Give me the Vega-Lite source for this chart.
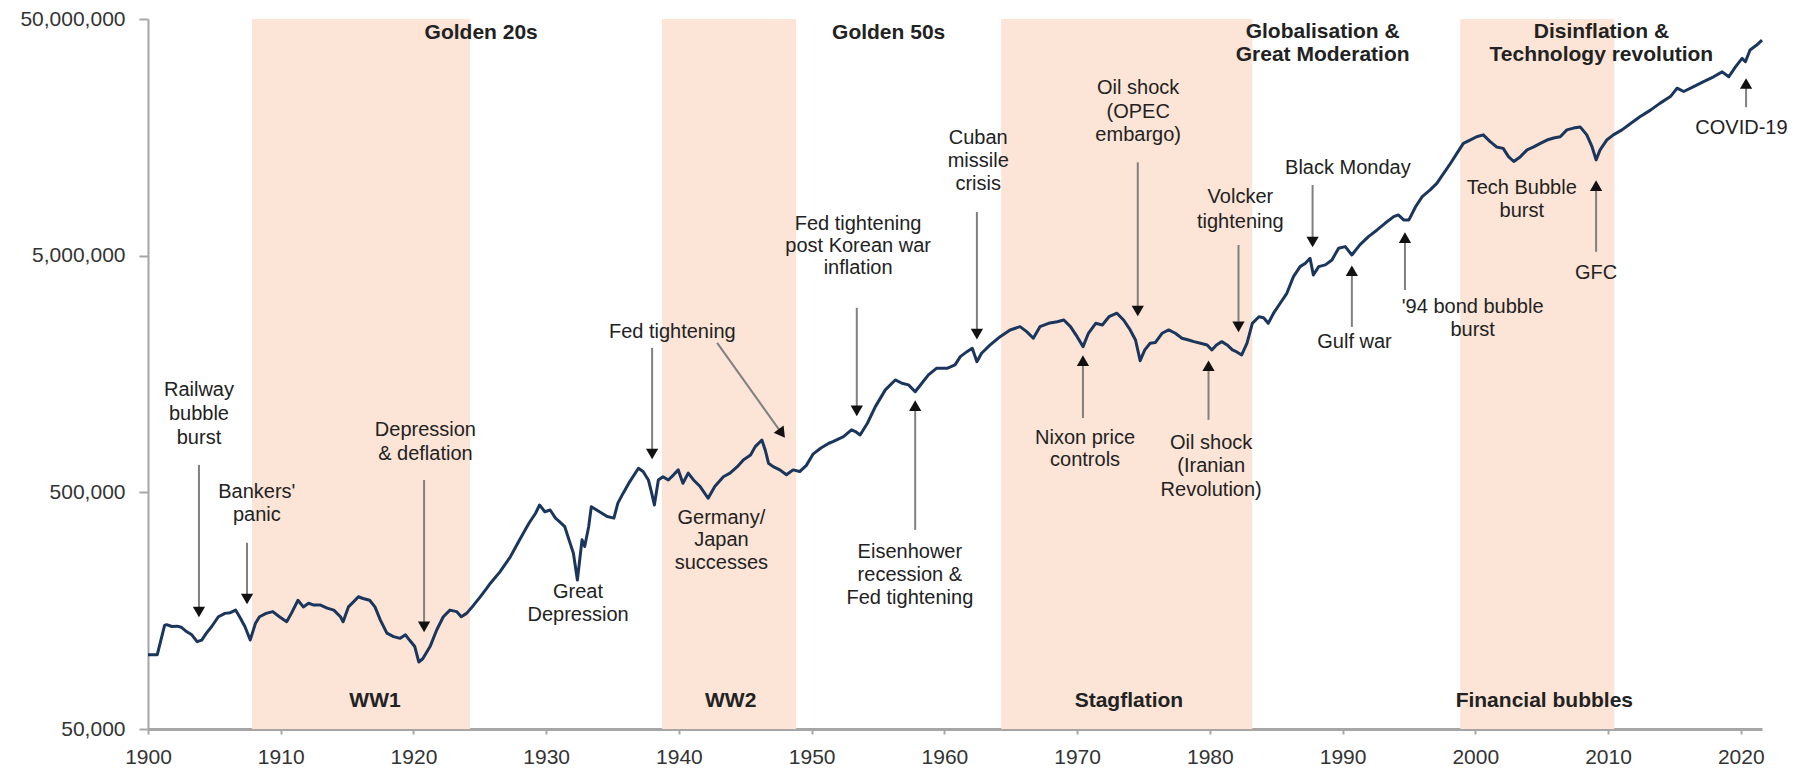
{
  "$schema": "https://vega.github.io/schema/vega-lite/v6.json",
  "width": 1614,
  "height": 710,
  "autosize": {"type": "none"},
  "padding": {"left": 148, "top": 19, "right": 34, "bottom": 40},
  "background": "white",
  "config": {
    "view": {"stroke": null},
    "axis": {"grid": false, "title": null, "labelFont": "Liberation Sans", "labelFontSize": 21, "labelColor": "#333333", "domainColor": "#a6a6a6", "tickColor": "#a6a6a6"}
  },
  "datasets": {
    "series": [
      {"year": 1900.0, "value": 103000}, {"year": 1900.7, "value": 103000}, {"year": 1901.25, "value": 137000}, {"year": 1901.4, "value": 138000},
      {"year": 1901.8, "value": 135500}, {"year": 1902.2, "value": 136000}, {"year": 1902.5, "value": 134600}, {"year": 1902.9, "value": 129000},
      {"year": 1903.3, "value": 125000}, {"year": 1903.7, "value": 117000}, {"year": 1904.05, "value": 118800}, {"year": 1904.4, "value": 127000},
      {"year": 1904.8, "value": 135500}, {"year": 1905.3, "value": 149000}, {"year": 1905.8, "value": 154000}, {"year": 1906.2, "value": 155000},
      {"year": 1906.6, "value": 159000}, {"year": 1906.9, "value": 149000}, {"year": 1907.3, "value": 135500}, {"year": 1907.7, "value": 118800},
      {"year": 1908.1, "value": 140000}, {"year": 1908.4, "value": 149000}, {"year": 1908.9, "value": 154000}, {"year": 1909.4, "value": 156700},
      {"year": 1909.9, "value": 149000}, {"year": 1910.45, "value": 142000}, {"year": 1910.8, "value": 154000}, {"year": 1911.3, "value": 175000},
      {"year": 1911.7, "value": 164000}, {"year": 1912.1, "value": 170000}, {"year": 1912.5, "value": 167000}, {"year": 1913.0, "value": 167000},
      {"year": 1913.5, "value": 162000}, {"year": 1914.0, "value": 159000}, {"year": 1914.5, "value": 149000}, {"year": 1914.7, "value": 142000},
      {"year": 1915.1, "value": 164000}, {"year": 1915.5, "value": 172600}, {"year": 1915.85, "value": 181000}, {"year": 1916.2, "value": 178000},
      {"year": 1916.7, "value": 175000}, {"year": 1917.1, "value": 164000}, {"year": 1917.5, "value": 144500}, {"year": 1918.0, "value": 127000},
      {"year": 1918.5, "value": 122800}, {"year": 1919.0, "value": 120800}, {"year": 1919.4, "value": 125000}, {"year": 1919.7, "value": 118800},
      {"year": 1920.1, "value": 111500}, {"year": 1920.4, "value": 96000}, {"year": 1920.7, "value": 99000}, {"year": 1921.25, "value": 111500},
      {"year": 1921.75, "value": 131000}, {"year": 1922.25, "value": 149000}, {"year": 1922.75, "value": 159000}, {"year": 1923.25, "value": 156700},
      {"year": 1923.6, "value": 149000}, {"year": 1924.0, "value": 154000}, {"year": 1924.5, "value": 166000}, {"year": 1925.0, "value": 180000},
      {"year": 1925.5, "value": 196000}, {"year": 1925.8, "value": 206500}, {"year": 1926.0, "value": 213000}, {"year": 1926.5, "value": 230000},
      {"year": 1927.3, "value": 267000}, {"year": 1928.0, "value": 315000}, {"year": 1928.7, "value": 370000}, {"year": 1929.2, "value": 408000},
      {"year": 1929.5, "value": 442000}, {"year": 1929.9, "value": 414000}, {"year": 1930.3, "value": 421000}, {"year": 1930.7, "value": 389000},
      {"year": 1931.0, "value": 376000}, {"year": 1931.4, "value": 358000}, {"year": 1931.8, "value": 305000}, {"year": 1932.05, "value": 276500},
      {"year": 1932.35, "value": 213000}, {"year": 1932.7, "value": 315000}, {"year": 1932.9, "value": 295000}, {"year": 1933.2, "value": 358000},
      {"year": 1933.4, "value": 435000}, {"year": 1933.8, "value": 421000}, {"year": 1934.2, "value": 408000}, {"year": 1934.6, "value": 395000},
      {"year": 1935.1, "value": 389000}, {"year": 1935.4, "value": 450000}, {"year": 1935.8, "value": 496000}, {"year": 1936.3, "value": 555000},
      {"year": 1936.95, "value": 632000}, {"year": 1937.3, "value": 612000}, {"year": 1937.7, "value": 564000}, {"year": 1937.95, "value": 496000},
      {"year": 1938.15, "value": 442000}, {"year": 1938.45, "value": 564000}, {"year": 1938.8, "value": 582000}, {"year": 1939.2, "value": 564000},
      {"year": 1939.6, "value": 593000}, {"year": 1939.95, "value": 622000}, {"year": 1940.3, "value": 546000}, {"year": 1940.7, "value": 603000},
      {"year": 1941.1, "value": 564000}, {"year": 1941.6, "value": 529000}, {"year": 1942.2, "value": 472000}, {"year": 1942.7, "value": 529000},
      {"year": 1943.35, "value": 582000}, {"year": 1943.85, "value": 603000}, {"year": 1944.4, "value": 642000}, {"year": 1944.85, "value": 685000},
      {"year": 1945.4, "value": 719000}, {"year": 1945.75, "value": 780000}, {"year": 1946.25, "value": 832000}, {"year": 1946.5, "value": 755000},
      {"year": 1946.75, "value": 664000}, {"year": 1947.1, "value": 642000}, {"year": 1947.6, "value": 622000}, {"year": 1948.1, "value": 593000},
      {"year": 1948.6, "value": 622000}, {"year": 1949.1, "value": 612000}, {"year": 1949.6, "value": 650000}, {"year": 1950.1, "value": 725000},
      {"year": 1950.7, "value": 770000}, {"year": 1951.3, "value": 806000}, {"year": 1951.6, "value": 819000}, {"year": 1952.4, "value": 860000},
      {"year": 1953.0, "value": 918000}, {"year": 1953.3, "value": 903000}, {"year": 1953.65, "value": 874000}, {"year": 1954.2, "value": 979000},
      {"year": 1954.8, "value": 1151000}, {"year": 1955.55, "value": 1355000}, {"year": 1956.3, "value": 1492000}, {"year": 1956.8, "value": 1445000},
      {"year": 1957.3, "value": 1422000}, {"year": 1957.8, "value": 1331000}, {"year": 1958.3, "value": 1445000}, {"year": 1958.8, "value": 1567000},
      {"year": 1959.4, "value": 1671000}, {"year": 1960.2, "value": 1671000}, {"year": 1960.8, "value": 1727000}, {"year": 1961.2, "value": 1872000},
      {"year": 1961.7, "value": 1965000}, {"year": 1962.1, "value": 2032000}, {"year": 1962.45, "value": 1783000}, {"year": 1962.8, "value": 1935000},
      {"year": 1963.45, "value": 2098000}, {"year": 1964.2, "value": 2274000}, {"year": 1964.95, "value": 2427000}, {"year": 1965.7, "value": 2506000},
      {"year": 1966.2, "value": 2388000}, {"year": 1966.7, "value": 2239000}, {"year": 1967.2, "value": 2506000}, {"year": 1967.85, "value": 2589000},
      {"year": 1968.5, "value": 2630000}, {"year": 1969.0, "value": 2673000}, {"year": 1969.5, "value": 2506000}, {"year": 1970.0, "value": 2274000},
      {"year": 1970.45, "value": 2064000}, {"year": 1970.85, "value": 2350000}, {"year": 1971.4, "value": 2589000}, {"year": 1971.9, "value": 2547000},
      {"year": 1972.4, "value": 2761000}, {"year": 1973.0, "value": 2857000}, {"year": 1973.5, "value": 2673000}, {"year": 1974.0, "value": 2427000},
      {"year": 1974.4, "value": 2202000}, {"year": 1974.75, "value": 1800000}, {"year": 1975.1, "value": 2000000}, {"year": 1975.5, "value": 2133000},
      {"year": 1975.9, "value": 2150000}, {"year": 1976.4, "value": 2350000}, {"year": 1976.9, "value": 2427000}, {"year": 1977.4, "value": 2350000},
      {"year": 1977.9, "value": 2239000}, {"year": 1978.4, "value": 2202000}, {"year": 1978.8, "value": 2166000}, {"year": 1979.3, "value": 2133000},
      {"year": 1979.8, "value": 2098000}, {"year": 1980.15, "value": 1998000}, {"year": 1980.5, "value": 2098000}, {"year": 1980.9, "value": 2166000},
      {"year": 1981.3, "value": 2098000}, {"year": 1981.7, "value": 1998000}, {"year": 1982.0, "value": 1965000}, {"year": 1982.4, "value": 1903000},
      {"year": 1982.8, "value": 2133000}, {"year": 1983.2, "value": 2589000}, {"year": 1983.7, "value": 2761000}, {"year": 1984.05, "value": 2735000},
      {"year": 1984.4, "value": 2589000}, {"year": 1984.8, "value": 2857000}, {"year": 1985.3, "value": 3147000}, {"year": 1985.8, "value": 3467000},
      {"year": 1986.3, "value": 4077000}, {"year": 1986.8, "value": 4494000}, {"year": 1987.2, "value": 4645000}, {"year": 1987.55, "value": 4876000},
      {"year": 1987.8, "value": 4143000}, {"year": 1988.2, "value": 4494000}, {"year": 1988.7, "value": 4570000}, {"year": 1989.2, "value": 4797000},
      {"year": 1989.7, "value": 5375000}, {"year": 1990.2, "value": 5460000}, {"year": 1990.7, "value": 5035000}, {"year": 1991.3, "value": 5550000},
      {"year": 1991.95, "value": 6015000}, {"year": 1992.6, "value": 6420000}, {"year": 1993.2, "value": 6850000}, {"year": 1993.85, "value": 7310000},
      {"year": 1994.2, "value": 7430000}, {"year": 1994.6, "value": 7080000}, {"year": 1995.0, "value": 7080000}, {"year": 1995.5, "value": 8050000},
      {"year": 1996.0, "value": 8880000}, {"year": 1996.6, "value": 9480000}, {"year": 1997.1, "value": 10100000}, {"year": 1997.6, "value": 11100000},
      {"year": 1998.1, "value": 12200000}, {"year": 1998.6, "value": 13500000}, {"year": 1999.1, "value": 14900000}, {"year": 1999.6, "value": 15400000},
      {"year": 2000.1, "value": 15900000}, {"year": 2000.6, "value": 16200000}, {"year": 2001.1, "value": 15200000}, {"year": 2001.6, "value": 14400000},
      {"year": 2002.1, "value": 14200000}, {"year": 2002.5, "value": 13100000}, {"year": 2002.9, "value": 12500000}, {"year": 2003.4, "value": 13100000},
      {"year": 2003.9, "value": 14000000}, {"year": 2004.4, "value": 14400000}, {"year": 2004.9, "value": 14900000}, {"year": 2005.4, "value": 15400000},
      {"year": 2005.9, "value": 15700000}, {"year": 2006.4, "value": 15900000}, {"year": 2006.9, "value": 17000000}, {"year": 2007.4, "value": 17300000},
      {"year": 2007.9, "value": 17500000}, {"year": 2008.4, "value": 16200000}, {"year": 2008.8, "value": 14400000}, {"year": 2009.1, "value": 12700000},
      {"year": 2009.4, "value": 14000000}, {"year": 2009.9, "value": 15400000}, {"year": 2010.4, "value": 16200000}, {"year": 2011.05, "value": 17000000},
      {"year": 2011.7, "value": 18100000}, {"year": 2012.4, "value": 19300000}, {"year": 2013.2, "value": 20600000}, {"year": 2013.9, "value": 22000000},
      {"year": 2014.7, "value": 23500000}, {"year": 2015.2, "value": 25500000}, {"year": 2015.7, "value": 24700000}, {"year": 2016.45, "value": 25900000},
      {"year": 2017.2, "value": 27200000}, {"year": 2017.95, "value": 28500000}, {"year": 2018.6, "value": 29900000}, {"year": 2019.1, "value": 28500000},
      {"year": 2019.6, "value": 31400000}, {"year": 2020.1, "value": 34100000}, {"year": 2020.35, "value": 33000000}, {"year": 2020.7, "value": 37000000},
      {"year": 2021.2, "value": 38800000}, {"year": 2021.6, "value": 40700000}
    ],
    "bands": [
      {"year": 1907.84, "year2": 1924.27},
      {"year": 1938.73, "year2": 1948.83},
      {"year": 1964.28, "year2": 1983.2},
      {"year": 1998.87, "year2": 2010.47}
    ],
    "periods": [
      {"year": 1925.1, "value": 43600000, "label": "Golden 20s"},
      {"year": 1955.8, "value": 43600000, "label": "Golden 50s"},
      {"year": 1988.5, "value": 44000000, "label": "Globalisation &"},
      {"year": 1988.5, "value": 35200000, "label": "Great Moderation"},
      {"year": 2009.5, "value": 44000000, "label": "Disinflation &"},
      {"year": 2009.5, "value": 35200000, "label": "Technology revolution"},
      {"year": 1917.1, "value": 65800, "label": "WW1"},
      {"year": 1943.9, "value": 65800, "label": "WW2"},
      {"year": 1973.9, "value": 65800, "label": "Stagflation"},
      {"year": 2005.2, "value": 65800, "label": "Financial bubbles"}
    ],
    "notes": [
      {"year": 1903.84, "value": 1355000, "label": "Railway"},
      {"year": 1903.84, "value": 1072000, "label": "bubble"},
      {"year": 1903.84, "value": 849000, "label": "burst"},
      {"year": 1908.2, "value": 502000, "label": "Bankers'"},
      {"year": 1908.2, "value": 402000, "label": "panic"},
      {"year": 1920.9, "value": 918000, "label": "Depression"},
      {"year": 1920.9, "value": 726000, "label": "& deflation"},
      {"year": 1932.4, "value": 190000, "label": "Great"},
      {"year": 1932.4, "value": 152000, "label": "Depression"},
      {"year": 1939.5, "value": 2380000, "label": "Fed tightening"},
      {"year": 1943.2, "value": 390000, "label": "Germany/"},
      {"year": 1943.2, "value": 315000, "label": "Japan"},
      {"year": 1943.2, "value": 252000, "label": "successes"},
      {"year": 1953.5, "value": 6810000, "label": "Fed tightening"},
      {"year": 1953.5, "value": 5500000, "label": "post Korean war"},
      {"year": 1953.5, "value": 4440000, "label": "inflation"},
      {"year": 1957.4, "value": 280000, "label": "Eisenhower"},
      {"year": 1957.4, "value": 224000, "label": "recession &"},
      {"year": 1957.4, "value": 179000, "label": "Fed tightening"},
      {"year": 1962.55, "value": 15700000, "label": "Cuban"},
      {"year": 1962.55, "value": 12560000, "label": "missile"},
      {"year": 1962.55, "value": 10050000, "label": "crisis"},
      {"year": 1970.6, "value": 849000, "label": "Nixon price"},
      {"year": 1970.6, "value": 685000, "label": "controls"},
      {"year": 1974.6, "value": 25600000, "label": "Oil shock"},
      {"year": 1974.6, "value": 20200000, "label": "(OPEC"},
      {"year": 1974.6, "value": 16200000, "label": "embargo)"},
      {"year": 1980.1, "value": 809000, "label": "Oil shock"},
      {"year": 1980.1, "value": 647000, "label": "(Iranian"},
      {"year": 1980.1, "value": 512000, "label": "Revolution)"},
      {"year": 1982.3, "value": 8850000, "label": "Volcker"},
      {"year": 1982.3, "value": 6940000, "label": "tightening"},
      {"year": 1990.4, "value": 11740000, "label": "Black Monday"},
      {"year": 1990.9, "value": 2160000, "label": "Gulf war"},
      {"year": 1999.8, "value": 3030000, "label": "'94 bond bubble"},
      {"year": 1999.8, "value": 2430000, "label": "burst"},
      {"year": 2003.5, "value": 9660000, "label": "Tech Bubble"},
      {"year": 2003.5, "value": 7720000, "label": "burst"},
      {"year": 2009.1, "value": 4230000, "label": "GFC"},
      {"year": 2020.05, "value": 17300000, "label": "COVID-19"}
    ],
    "downArrows": [
      {"year": 1903.84, "value": 653000, "value2": 156000},
      {"year": 1907.46, "value": 306000, "value2": 177000},
      {"year": 1920.8, "value": 564000, "value2": 135000},
      {"year": 1937.98, "value": 2040000, "value2": 726000},
      {"year": 1953.4, "value": 3010000, "value2": 1104000},
      {"year": 1962.45, "value": 7650000, "value2": 2330000},
      {"year": 1974.57, "value": 12400000, "value2": 2920000},
      {"year": 1982.16, "value": 5550000, "value2": 2500000},
      {"year": 1987.74, "value": 9950000, "value2": 5710000}
    ],
    "upArrows": [
      {"year": 1957.8, "value": 1162000, "value2": 347000},
      {"year": 1970.44, "value": 1800000, "value2": 1031000},
      {"year": 1979.9, "value": 1714000, "value2": 1012000},
      {"year": 1990.7, "value": 4320000, "value2": 2500000},
      {"year": 1994.7, "value": 5960000, "value2": 3580000},
      {"year": 2009.1, "value": 9880000, "value2": 5190000},
      {"year": 2020.4, "value": 26700000, "value2": 21200000}
    ],
    "diagArrow": [
      {"year": 1942.88, "value": 2140000, "year2": 1947.75, "value2": 887000}
    ]
  },
  "encoding": {
    "x": {
      "field": "year", "type": "quantitative",
      "scale": {"domain": [1900, 2021.6], "nice": false, "zero": false},
      "axis": {"values": [1900, 1910, 1920, 1930, 1940, 1950, 1960, 1970, 1980, 1990, 2000, 2010, 2020], "format": "d", "domainWidth": 3, "tickWidth": 2, "tickSize": 5, "labelPadding": 12, "labelFlush": false}
    }
  },
  "layer": [
    {
      "data": {"name": "bands"},
      "mark": {"type": "rect", "color": "#fce4d6"},
      "encoding": {
        "x2": {"field": "year2"}
      }
    },
    {
      "data": {"name": "series"},
      "mark": {"type": "line", "color": "#1b365d", "strokeWidth": 3, "strokeJoin": "round"},
      "encoding": {
        "y": {"field": "value", "type": "quantitative", "scale": {"type": "log", "domain": [50000, 50000000], "nice": false}, "axis": {"values": [50000, 500000, 5000000, 50000000], "format": ",d", "domainWidth": 2, "tickWidth": 2, "tickSize": 9, "labelPadding": 14}}
      }
    },
    {
      "data": {"name": "downArrows"},
      "mark": {"type": "rule", "color": "#808080", "strokeWidth": 2},
      "encoding": {
        "y": {"field": "value", "type": "quantitative", "scale": {"type": "log", "domain": [50000, 50000000], "nice": false}, "axis": {"values": [50000, 500000, 5000000, 50000000], "format": ",d", "domainWidth": 2, "tickWidth": 2, "tickSize": 9, "labelPadding": 14}},
        "y2": {"field": "value2"}
      }
    },
    {
      "data": {"name": "downArrows"},
      "mark": {"type": "point", "shape": "triangle-down", "filled": true, "size": 150, "color": "#111111", "opacity": 1},
      "encoding": {
        "y": {"field": "value2", "type": "quantitative", "scale": {"type": "log", "domain": [50000, 50000000], "nice": false}, "axis": {"values": [50000, 500000, 5000000, 50000000], "format": ",d", "domainWidth": 2, "tickWidth": 2, "tickSize": 9, "labelPadding": 14}}
      }
    },
    {
      "data": {"name": "upArrows"},
      "mark": {"type": "rule", "color": "#808080", "strokeWidth": 2},
      "encoding": {
        "y": {"field": "value", "type": "quantitative", "scale": {"type": "log", "domain": [50000, 50000000], "nice": false}, "axis": {"values": [50000, 500000, 5000000, 50000000], "format": ",d", "domainWidth": 2, "tickWidth": 2, "tickSize": 9, "labelPadding": 14}},
        "y2": {"field": "value2"}
      }
    },
    {
      "data": {"name": "upArrows"},
      "mark": {"type": "point", "shape": "triangle-up", "filled": true, "size": 150, "color": "#111111", "opacity": 1},
      "encoding": {
        "y": {"field": "value", "type": "quantitative", "scale": {"type": "log", "domain": [50000, 50000000], "nice": false}, "axis": {"values": [50000, 500000, 5000000, 50000000], "format": ",d", "domainWidth": 2, "tickWidth": 2, "tickSize": 9, "labelPadding": 14}}
      }
    },
    {
      "data": {"name": "diagArrow"},
      "mark": {"type": "rule", "color": "#808080", "strokeWidth": 2},
      "encoding": {
        "y": {"field": "value", "type": "quantitative", "scale": {"type": "log", "domain": [50000, 50000000], "nice": false}, "axis": {"values": [50000, 500000, 5000000, 50000000], "format": ",d", "domainWidth": 2, "tickWidth": 2, "tickSize": 9, "labelPadding": 14}},
        "x2": {"field": "year2"},
        "y2": {"field": "value2"}
      }
    },
    {
      "data": {"name": "diagArrow"},
      "mark": {"type": "point", "shape": "triangle-up", "angle": 144, "filled": true, "size": 150, "color": "#111111", "opacity": 1},
      "encoding": {
        "x": {"field": "year2", "type": "quantitative", "scale": {"domain": [1900, 2021.6], "nice": false, "zero": false}, "axis": {"values": [1900, 1910, 1920, 1930, 1940, 1950, 1960, 1970, 1980, 1990, 2000, 2010, 2020], "format": "d", "domainWidth": 3, "tickWidth": 2, "tickSize": 5, "labelPadding": 12, "labelFlush": false}},
        "y": {"field": "value2", "type": "quantitative", "scale": {"type": "log", "domain": [50000, 50000000], "nice": false}, "axis": {"values": [50000, 500000, 5000000, 50000000], "format": ",d", "domainWidth": 2, "tickWidth": 2, "tickSize": 9, "labelPadding": 14}}
      }
    },
    {
      "data": {"name": "notes"},
      "mark": {"type": "text", "font": "Liberation Sans", "fontSize": 20, "color": "#222222", "align": "center", "baseline": "middle"},
      "encoding": {
        "y": {"field": "value", "type": "quantitative", "scale": {"type": "log", "domain": [50000, 50000000], "nice": false}, "axis": {"values": [50000, 500000, 5000000, 50000000], "format": ",d", "domainWidth": 2, "tickWidth": 2, "tickSize": 9, "labelPadding": 14}},
        "text": {"field": "label"}
      }
    },
    {
      "data": {"name": "periods"},
      "mark": {"type": "text", "font": "Liberation Sans", "fontSize": 21, "fontWeight": "bold", "color": "#222222", "align": "center", "baseline": "middle"},
      "encoding": {
        "y": {"field": "value", "type": "quantitative", "scale": {"type": "log", "domain": [50000, 50000000], "nice": false}, "axis": {"values": [50000, 500000, 5000000, 50000000], "format": ",d", "domainWidth": 2, "tickWidth": 2, "tickSize": 9, "labelPadding": 14}},
        "text": {"field": "label"}
      }
    }
  ]
}
